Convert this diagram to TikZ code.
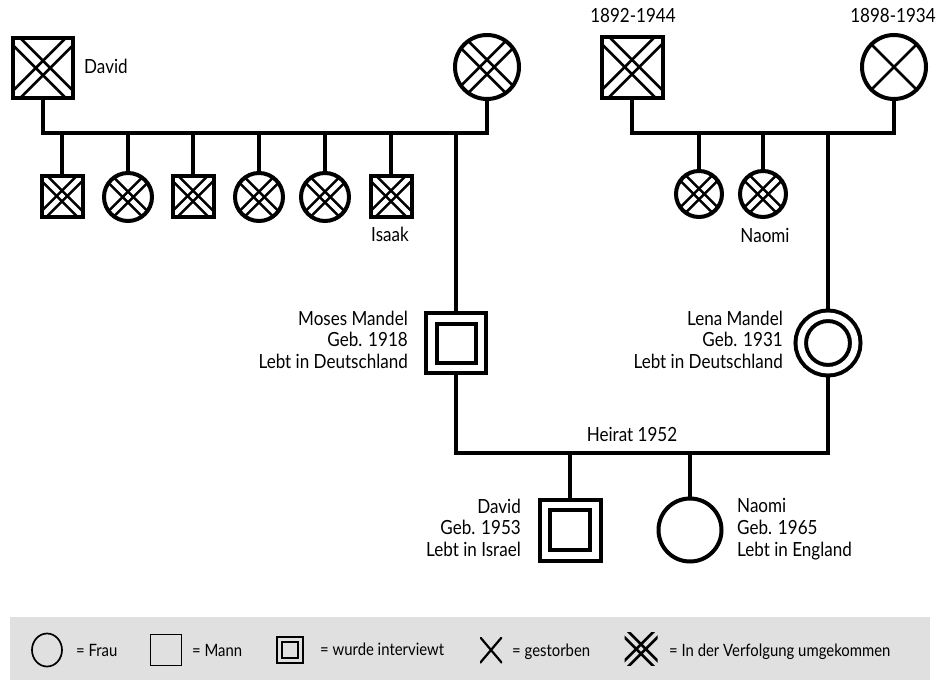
\documentclass[tikz,border=0pt]{standalone}
\usepackage{fontspec}
\setmainfont{Lato}[FakeStretch=0.875]
\usetikzlibrary{backgrounds,shapes.geometric}

\begin{document}
\begin{tikzpicture}[
  x=1pt, y=-1pt,
  lw/.style={line width=4pt},
  conn/.style={lw},
  man/.style={draw,rectangle,lw,fill=white,inner sep=0pt,minimum size=#1},
  woman/.style={draw,circle,lw,fill=white,inner sep=0pt,minimum size=#1},
  asked/.style={double,double distance=6.5pt},
  xline/.style={line width=2.6pt},
  died/.style={path picture={
    \draw[xline] (path picture bounding box.north west) -- (path picture bounding box.south east)
                 (path picture bounding box.north east) -- (path picture bounding box.south west);}},
  killed/.style={path picture={
    \foreach \sg in {-1,1}{
      \draw[xline] ([shift={(\sg*#1pt,\sg*#1pt)}]path picture bounding box.north west)
        -- ([shift={(\sg*#1pt,\sg*#1pt)}]path picture bounding box.south east);
      \draw[xline] ([shift={(-\sg*#1pt,\sg*#1pt)}]path picture bounding box.north east)
        -- ([shift={(-\sg*#1pt,\sg*#1pt)}]path picture bounding box.south west);
    }}},
  lbl/.style={font=\fontsize{19.5}{21.8}\selectfont,inner sep=0pt},
  key/.style={font=\fontsize{17}{19}\selectfont,inner sep=0pt,anchor=base west},
]
\useasboundingbox (0,0) rectangle (940,680);
\coordinate (famL) at (0,133);
\coordinate (famR) at (600,133);
\coordinate (wed) at (642,453);

% ----- father's parents and siblings -----
\node[man=60,killed=3.6] (davidS) at (43,68) {};
\node[woman=64,killed=3.6] (wifeS) at (487,67) {};
\node[lbl,anchor=base west] (davidSL) at (84,73) {David};

\node[man=41,killed=2.7] (sib1) at (62,196) {};
\node[woman=48,killed=2.7] (sib2) at (128,197) {};
\node[man=41,killed=2.7] (sib3) at (193,196) {};
\node[woman=48,killed=2.7] (sib4) at (259,197) {};
\node[woman=48,killed=2.7] (sib5) at (325,197) {};
\node[man=41,killed=2.7] (sib6) at (391,196) {};
\node[lbl,anchor=base] (isaakL) at (390,241) {Isaak};

% ----- mother's parents and sisters -----
\node[man=61,killed=3.6] (opa) at (632,67) {};
\node[woman=64,died] (oma) at (894,67) {};
\node[lbl,anchor=base] (opaL) at (633,23) {1892-1944};
\node[lbl,anchor=base] (omaL) at (893,23) {1898-1934};

\node[woman=46,killed=2.7] (aunt1) at (699,194) {};
\node[woman=46,killed=2.7] (aunt2) at (763,194) {};
\node[lbl,anchor=base] (naomiAL) at (765,242) {Naomi};

% ----- parents -----
\node[man=49.5,asked] (moses) at (456,343) {};
\node[lbl,anchor=north east,align=right] (mosesL) at (408,310.5)
  {Moses Mandel\\Geb. 1918\\Lebt in Deutschland};
\node[woman=54.5,asked] (lena) at (828,343) {};
\node[lbl,anchor=north east,align=right] (lenaL) at (783,310.5)
  {Lena Mandel\\Geb. 1931\\Lebt in Deutschland};
\node[lbl,anchor=base] (heirat) at (632,441) {Heirat 1952};

% ----- children -----
\node[man=50.5,asked] (david) at (570,530) {};
\node[lbl,anchor=north east,align=right] (davidL) at (521,498.5)
  {David\\Geb. 1953\\Lebt in Israel};
\node[woman=63] (naomi) at (690,530) {};
\node[lbl,anchor=north west,align=left] (naomiL) at (737,498.5)
  {Naomi\\Geb. 1965\\Lebt in England};

% ----- lines -----
\begin{scope}[on background layer]
  \draw[conn] (davidS.south) -- (davidS.south |- famL) -- (wifeS.south |- famL) -- (wifeS.south);
  \foreach \n in {sib1,sib2,sib3,sib4,sib5,sib6,moses}
    \draw[conn] (\n.north |- famL) -- (\n.north);
  \draw[conn] (opa.south) -- (opa.south |- famR) -- (oma.south |- famR) -- (oma.south);
  \foreach \n in {aunt1,aunt2,lena}
    \draw[conn] (\n.north |- famR) -- (\n.north);
  \draw[conn] (moses.south) |- (wed) -| (lena.south);
  \draw[conn] (david.north |- wed) -- (david.north);
  \draw[conn] (naomi.north |- wed) -- (naomi.north);
\end{scope}

% ----- legend -----
\fill[black!12] (10,617) rectangle (930,680);
\node[draw,ellipse,line width=1.7pt,minimum width=30,minimum height=33,inner sep=0pt] (kFrau) at (47,650) {};
\node[key] (kFrauT) at (76,656) {= Frau};
\node[draw,line width=1.9pt,minimum size=31,inner sep=0pt] (kMann) at (166,650) {};
\node[key] (kMannT) at (192,656) {= Mann};
\node[draw,line width=2.2pt,double=black!12,double distance=3.5pt,minimum size=21,inner sep=0pt] (kAsk) at (290,650) {};
\node[key] (kAskT) at (320,655) {= wurde interviewt};
\node[died,xline/.style={line width=2.2pt},minimum width=22,minimum height=26,inner sep=0pt] (kDied) at (491,650) {};
\node[key] (kDiedT) at (512,656) {= gestorben};
\node[killed=2.4,minimum size=33,inner sep=0pt] (kKill) at (641,649) {};
\node[key] (kKillT) at (669,656) {= In der Verfolgung umgekommen};

\end{tikzpicture}
\end{document}
